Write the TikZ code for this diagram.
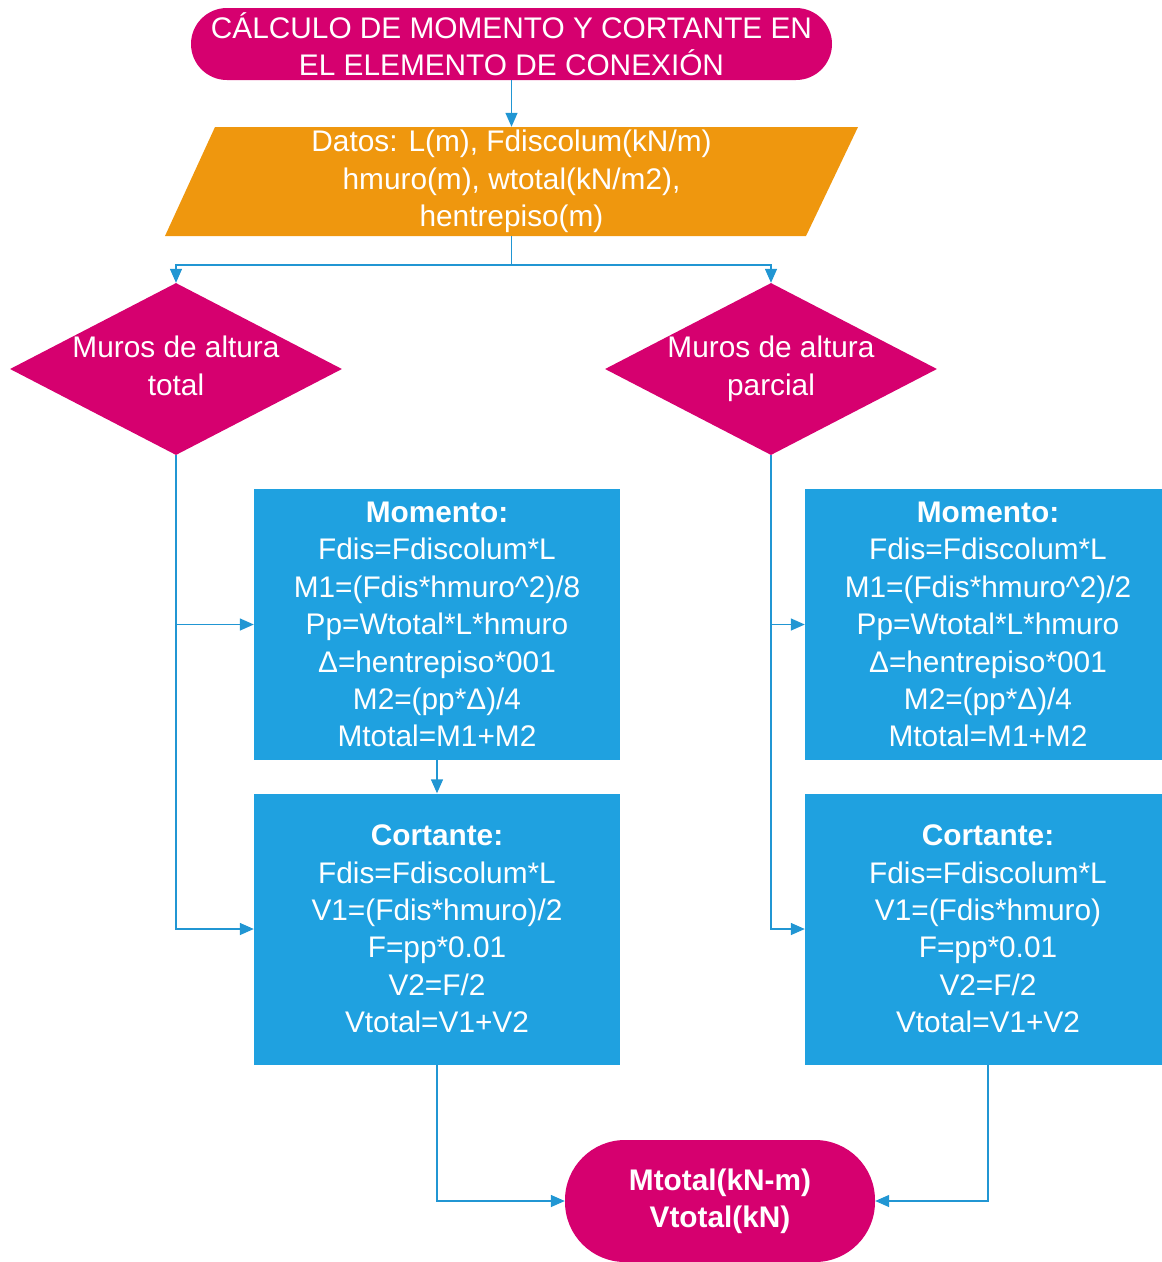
\documentclass[tikz,border=0pt]{standalone}
\usepackage{fontspec}
\setmainfont{Liberation Sans}
\usetikzlibrary{shapes.geometric,arrows.meta}
\definecolor{magentafc}{HTML}{D6006F}
\definecolor{orangefc}{HTML}{EF970E}
\definecolor{bluebox}{HTML}{1FA1E0}
\definecolor{blueline}{HTML}{2196D3}
\tikzset{
  x=1pt, y=-1pt,
  txt/.style={text=white, font=\fontsize{29.8}{37.4}\selectfont, align=center, inner sep=0pt},
  term/.style={txt, fill=magentafc},
  dec/.style={txt, shape=diamond, fill=magentafc, minimum width=332pt, minimum height=172pt},
  calc/.style={txt, fill=bluebox, minimum width=366pt, minimum height=271pt},
  conn/.style={draw=blueline, line width=1.4pt, -{Triangle[length=14pt,width=12pt]}},
}
\begin{document}
\begin{tikzpicture}
\useasboundingbox (0,0) rectangle (1162,1262);

% start
\node[term, minimum width=641pt, minimum height=72pt, rounded corners=36pt] (inicio) at (511.5,44)
  {CÁLCULO DE MOMENTO Y CORTANTE EN\\EL ELEMENTO DE CONEXIÓN};

% input data (parallelogram)
\fill[orangefc] (215,127) -- (858,127) -- (806,236) -- (165,236) -- cycle;
\node[txt, minimum width=641pt, minimum height=109pt] (datos) at (511.5,181.5)
  {Datos: L(m), Fdiscolum(kN/m)\\hmuro(m), wtotal(kN/m2),\\hentrepiso(m)};

% decisions
\node[dec] (dtotal) at (176,369)
  {\makebox[0pt]{\begin{tabular}{@{}c@{}}Muros de altura\\total\end{tabular}}};
\node[dec] (dparcial) at (771,369)
  {\makebox[0pt]{\begin{tabular}{@{}c@{}}Muros de altura\\parcial\end{tabular}}};

% calculation boxes
\node[calc] (momT) at (437,624.5)
  {\textbf{Momento:}\\Fdis=Fdiscolum*L\\M1=(Fdis*hmuro\^{}2)/8\\Pp=Wtotal*L*hmuro\\Δ=hentrepiso*001\\M2=(pp*Δ)/4\\Mtotal=M1+M2};
\node[calc] (corT) at (437,929)
  {\textbf{Cortante:}\\Fdis=Fdiscolum*L\\V1=(Fdis*hmuro)/2\\F=pp*0.01\\V2=F/2\\Vtotal=V1+V2};
\node[calc] (momP) at (988,624.5)
  {\textbf{Momento:}\\Fdis=Fdiscolum*L\\M1=(Fdis*hmuro\^{}2)/2\\Pp=Wtotal*L*hmuro\\Δ=hentrepiso*001\\M2=(pp*Δ)/4\\Mtotal=M1+M2};
\node[calc] (corP) at (988,929)
  {\textbf{Cortante:}\\Fdis=Fdiscolum*L\\V1=(Fdis*hmuro)\\F=pp*0.01\\V2=F/2\\Vtotal=V1+V2};

% end
\node[term, minimum width=310pt, minimum height=122pt, rounded corners=60pt] (fin) at (720,1201)
  {\textbf{Mtotal(kN-m)}\\\textbf{Vtotal(kN)}};

% connectors
\coordinate (split) at (511.5,265);
\draw[conn] (inicio.south) -- (datos.north);
\draw[conn] (datos.south) -- (split) -| (dtotal.north);
\draw[conn] (split) -| (dparcial.north);
\draw[conn] (dtotal.south) |- (momT.west);
\draw[conn] (dtotal.south) |- (corT.west);
\draw[conn] (dparcial.south) |- (momP.west);
\draw[conn] (dparcial.south) |- (corP.west);
\draw[conn] (momT.south) -- (corT.north);
\draw[conn] (corT.south) |- (fin.west);
\draw[conn] (corP.south) |- (fin.east);
\end{tikzpicture}
\end{document}
